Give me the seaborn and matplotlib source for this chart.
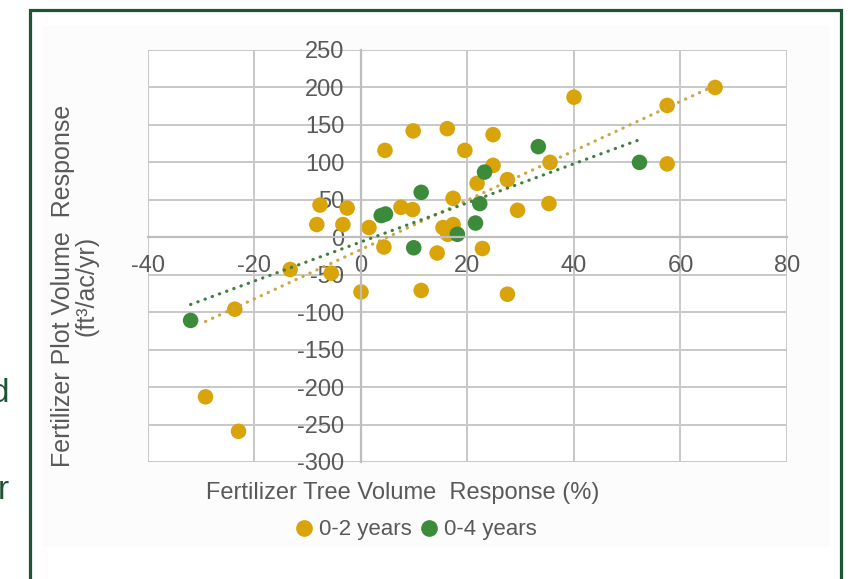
import numpy as np
import pandas as pd
import seaborn as sns
import matplotlib.pyplot as plt
from matplotlib.patches import Rectangle
from matplotlib.lines import Line2D

# values
gold_x = [66.5, 57.5, 40.0, 57.5, 35.5, 35.3, 29.4, 27.5, 27.5, 24.8, 24.8, 21.8, 22.8,
          16.2, 19.5, 17.3, 15.4, 17.3, 16.3, 14.3, 11.3, 9.8, 9.7, 7.5, 4.5, 1.5,
          4.3, -7.7, -2.6, -8.3, -3.4, 0.0, -5.6, -13.3, -23.7, -29.2, -23.0]
gold_y = [200, 176, 187, 98, 100, 45, 36, -76, 77, 137, 96, 72, -15,
          145, 116, 52, 13, 17, 4, -21, -71, 142, 37, 40, 116, 13,
          -13, 43, 39, 17, 17, -73, -48, -43, -96, -213, -259]
green_x = [52.3, 33.3, 23.2, 11.3, 22.3, 21.5, 18.1, 9.9, 3.8, 4.6, -32.0]
green_y = [100, 121, 87, 60, 45, 19, 4, -14, 29, 31, -111]

series_names = ["0-2 years", "0-4 years"]
x_ticks = list(range(-40, 81, 20))
y_ticks = list(range(-300, 251, 50))

GOLD = "#D9A30A"
GREEN = "#3C8B3A"
GOLD_LINE = "#CDA54A"
GREEN_LINE = "#3F7F3F"
GRID = "#C8C8C8"
TEXT = "#595959"
FRAME = "#1D5434"

df = pd.DataFrame({
    "x": gold_x + green_x,
    "y": gold_y + green_y,
    "Series": [series_names[0]] * len(gold_x) + [series_names[1]] * len(green_x),
})

sns.set_style("white")
plt.rcParams["font.family"] = ["Liberation Sans", "DejaVu Sans"]
plt.rcParams["axes.unicode_minus"] = False

fig = plt.figure(figsize=(8.5, 5.79), dpi=100)

# slide frame and chart area
fig.add_artist(Rectangle((42 / 850, 1 - 547 / 579), (830 - 42) / 850, (547 - 25) / 579,
                         transform=fig.transFigure, facecolor="#FCFCFC",
                         edgecolor="none", zorder=-2))
fig.add_artist(Rectangle((30 / 850, -0.05), (841 - 30) / 850, 1.05 - 10 / 579,
                         transform=fig.transFigure, fill=False,
                         edgecolor=FRAME, lw=2.3, zorder=-1))
# slide text cut off at the left edge
fig.text(9 / 850, 1 - 402 / 579, "d", ha="right", va="baseline",
         fontsize=24, color=FRAME)
fig.text(9 / 850, 1 - 499 / 579, "r", ha="right", va="baseline",
         fontsize=24, color=FRAME)

ax = fig.add_axes([148 / 850, 1 - 462 / 579, 639 / 850, 412 / 579])
ax.set_facecolor("white")

sns.scatterplot(data=df, x="x", y="y", hue="Series",
                palette={series_names[0]: GOLD, series_names[1]: GREEN},
                s=125, edgecolor="none", legend=False, ax=ax, zorder=2)

# linear trend lines
for xs, ys, col in [(gold_x, gold_y, GOLD_LINE), (green_x, green_y, GREEN_LINE)]:
    coef = np.polyfit(xs, ys, 1)
    xr = np.array([min(xs), max(xs)])
    ax.plot(xr, np.polyval(coef, xr), color=col, lw=2.3,
            linestyle=(0, (0.1, 2.3)), dash_capstyle="round", zorder=3)

ax.set_xlim(-40, 80)
ax.set_ylim(-300, 250)
ax.set_xticks(x_ticks)
ax.set_yticks(y_ticks)
ax.grid(True, color=GRID, lw=1.4)
for gl in ax.get_xgridlines() + ax.get_ygridlines():
    gl.set_clip_on(False)

ax.spines["left"].set_position(("data", 0))
ax.spines["bottom"].set_position(("data", 0))
for side in ["left", "bottom"]:
    ax.spines[side].set_color("#BDBDBD")
    ax.spines[side].set_linewidth(1.6)
for side in ["top", "right"]:
    ax.spines[side].set_visible(False)

ax.tick_params(axis="both", length=0, labelsize=17, labelcolor=TEXT)
ax.tick_params(axis="x", pad=13)
ax.tick_params(axis="y", pad=12)

ax.set_xlabel("Fertilizer Tree Volume  Response (%)", fontsize=17, color=TEXT)
ax.xaxis.set_label_coords(0.399, -0.049)
ax.set_ylabel("Fertilizer Plot Volume  Response\n(ft³/ac/yr)", fontsize=18,
              color=TEXT, linespacing=0.95)
ax.yaxis.set_label_coords(-0.078, 0.427)

handles = [Line2D([], [], marker="o", ls="", color=GOLD, markersize=11),
           Line2D([], [], marker="o", ls="", color=GREEN, markersize=11)]
fig.legend(handles, series_names, loc="center",
           bbox_to_anchor=(0.488, 1 - 530 / 579), ncol=2, frameon=False,
           fontsize=16, handletextpad=0.15, columnspacing=0.3,
           handlelength=1.0, labelcolor=TEXT)

fig.savefig("out.png", dpi=100)
